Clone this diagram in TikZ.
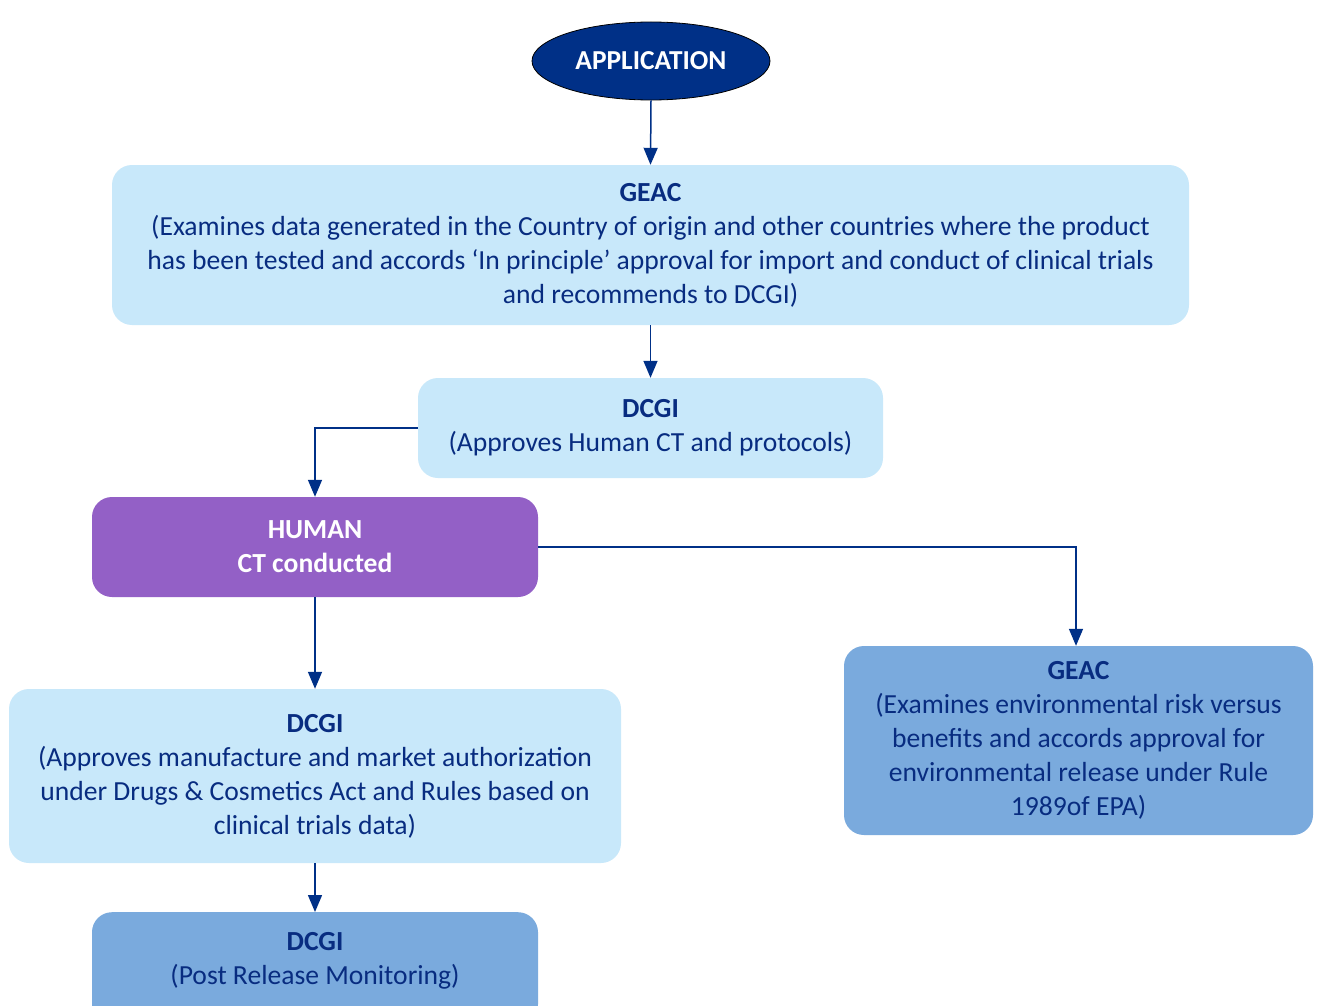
\documentclass[tikz,border=0pt]{standalone}
\usepackage{fontspec}
\setmainfont{Carlito}
\usetikzlibrary{arrows.meta,shapes.geometric}
\definecolor{navy}{RGB}{0,48,135}
\definecolor{txtblue}{RGB}{8,44,128}
\definecolor{lightbox}{RGB}{200,232,250}
\definecolor{midbox}{RGB}{122,170,221}
\definecolor{purplebox}{RGB}{147,96,198}
\tikzset{
  x=1pt,y=-1pt,
  box/.style={rectangle,rounded corners=20pt,draw=none,align=center,
    font=\fontsize{27.6}{34}\selectfont,text=txtblue,inner sep=0pt},
  lbox/.style={box,fill=lightbox},
  mbox/.style={box,fill=midbox},
  pbox/.style={box,fill=purplebox,text=white,font=\fontsize{27.6}{34}\selectfont\bfseries},
  conn/.style={draw=navy,line width=1.5pt,-{Triangle[width=14pt,length=17pt]}}
}
\begin{document}
\begin{tikzpicture}
\useasboundingbox[fill=white] (0,0) rectangle (1317,1006);
\node[ellipse,fill=navy,draw=black,line width=0.8pt,minimum width=238pt,minimum height=78pt,
  text=white,font=\fontsize{27.4}{34}\selectfont\bfseries,inner sep=0pt] (app) at (651,61) {APPLICATION};
\node[lbox,minimum width=1077pt,minimum height=160pt] (geac1) at (650.5,245)
 {\textbf{GEAC}\\(Examines data generated in the Country of origin and other countries where the product\\has been tested and accords ‘In principle’ approval for import and conduct of clinical trials\\and recommends to DCGI)};
\node[lbox,minimum width=465pt,minimum height=100pt] (dcgi1) at (650.5,428)
 {\textbf{DCGI}\\(Approves Human CT and protocols)};
\node[pbox,minimum width=446pt,minimum height=100pt] (human) at (315,547)
 {HUMAN\\CT conducted};
\node[lbox,minimum width=612pt,minimum height=174pt] (dcgi2) at (315,776)
 {\textbf{DCGI}\\(Approves manufacture and market authorization\\under Drugs \& Cosmetics Act and Rules based on\\clinical trials data)};
\node[mbox,minimum width=446pt,minimum height=112pt,anchor=north] (dcgi3) at (315,912) {};
\node[box,anchor=center] (dcgi3t) at (315,961) {\textbf{DCGI}\\(Post Release Monitoring)};
\node[mbox,minimum width=469pt,minimum height=189pt] (geac2) at (1078.5,740.5)
 {\textbf{GEAC}\\(Examines environmental risk versus\\benefits and accords approval for\\environmental release under Rule\\1989of EPA)};
\draw[conn] (app.south) -- (geac1.north);
\draw[conn] (geac1.south) -- (dcgi1.north);
\draw[conn] (dcgi1.west) -| (human.north);
\draw[conn] (human.east) -| (geac2.north -| 1076,0);
\draw[conn] (human.south) -- (dcgi2.north);
\draw[conn] (dcgi2.south) -- (dcgi3.north);
\end{tikzpicture}
\end{document}
